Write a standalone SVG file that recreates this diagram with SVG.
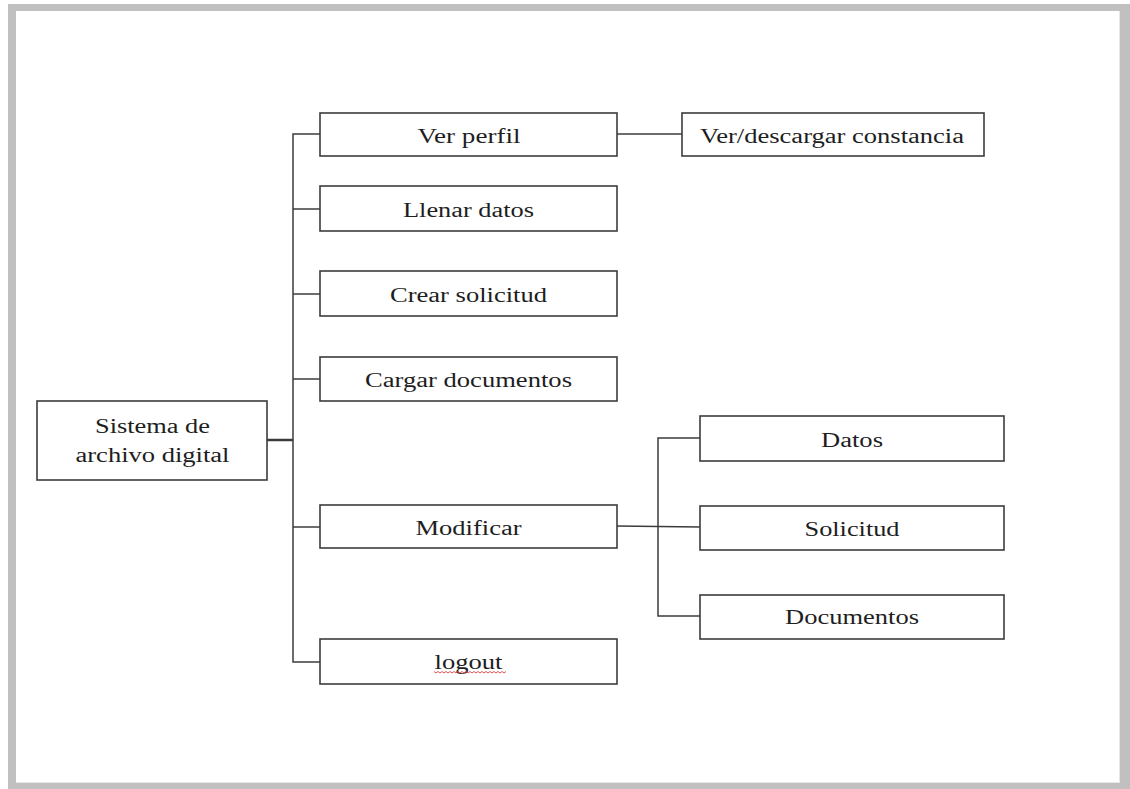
<svg xmlns="http://www.w3.org/2000/svg" width="1130" height="789" viewBox="0 0 1130 789">
<style>
.box{fill:#fff;stroke:#3c3c3c;stroke-width:1.6}
.lbl{font-family:"Liberation Serif","Times New Roman",serif;font-size:20px;fill:#1e1e1e;text-anchor:middle}
.con{fill:none;stroke:#3c3c3c;stroke-width:1.5}
</style>
<rect x="8" y="4" width="1122" height="785" fill="#c0c0c0"/>
<rect x="16" y="11" width="1103" height="771" fill="#fff"/>
<line x1="1119.5" y1="11" x2="1119.5" y2="782" stroke="#e6e6e6" stroke-width="1"/>
<line x1="16" y1="782.5" x2="1120" y2="782.5" stroke="#e6e6e6" stroke-width="1"/>
<g id="connectors">
<line class="con" x1="267" y1="440" x2="293" y2="440" style="stroke-width:2.5"/>
<polyline class="con" points="320,134 293,134 293,662 320,662"/>
<line class="con" x1="293" y1="209" x2="320" y2="209"/>
<line class="con" x1="293" y1="294" x2="320" y2="294"/>
<line class="con" x1="293" y1="379" x2="320" y2="379"/>
<line class="con" x1="293" y1="527" x2="320" y2="527"/>
<line class="con" x1="617" y1="134" x2="682" y2="134"/>
<line class="con" x1="617" y1="526" x2="700" y2="527"/>
<polyline class="con" points="700,438 658,438 658,616 700,616"/>
</g>
<g id="root"><rect class="box" x="37" y="401" width="230" height="79"/>
<text class="lbl" x="152.5" y="433" textLength="115" lengthAdjust="spacingAndGlyphs">Sistema de</text>
<text class="lbl" x="152.5" y="462" textLength="154" lengthAdjust="spacingAndGlyphs">archivo digital</text></g>
<g id="ver-perfil"><rect class="box" x="320" y="113" width="297" height="43"/>
<text class="lbl" x="469" y="143" textLength="103" lengthAdjust="spacingAndGlyphs">Ver perfil</text></g>
<g id="llenar-datos"><rect class="box" x="320" y="186" width="297" height="45"/>
<text class="lbl" x="468.5" y="217" textLength="131" lengthAdjust="spacingAndGlyphs">Llenar datos</text></g>
<g id="crear-solicitud"><rect class="box" x="320" y="271" width="297" height="45"/>
<text class="lbl" x="468.5" y="302" textLength="157" lengthAdjust="spacingAndGlyphs">Crear solicitud</text></g>
<g id="cargar-documentos"><rect class="box" x="320" y="357" width="297" height="44"/>
<text class="lbl" x="468.5" y="387" textLength="207" lengthAdjust="spacingAndGlyphs">Cargar documentos</text></g>
<g id="modificar"><rect class="box" x="320" y="505" width="297" height="43"/>
<text class="lbl" x="468.5" y="535" textLength="106" lengthAdjust="spacingAndGlyphs">Modificar</text></g>
<g id="logout"><rect class="box" x="320" y="639" width="297" height="45"/>
<text class="lbl" x="468.5" y="669" textLength="68" lengthAdjust="spacingAndGlyphs">logout</text>
<path d="M434,671.5 l2,1.5 l2,-1.5 l2,1.5 l2,-1.5 l2,1.5 l2,-1.5 l2,1.5 l2,-1.5 l2,1.5 l2,-1.5 l2,1.5 l2,-1.5 l2,1.5 l2,-1.5 l2,1.5 l2,-1.5 l2,1.5 l2,-1.5 l2,1.5 l2,-1.5 l2,1.5 l2,-1.5 l2,1.5 l2,-1.5 l2,1.5 l2,-1.5 l2,1.5 l2,-1.5 l2,1.5 l2,-1.5 l2,1.5 l2,-1.5 l2,1.5 l2,-1.5 l2,1.5 l2,-1.5" fill="none" stroke="#e04040" stroke-width="0.9"/></g>
<g id="ver-descargar"><rect class="box" x="682" y="113" width="302" height="43"/>
<text class="lbl" x="832" y="143" textLength="264" lengthAdjust="spacingAndGlyphs">Ver/descargar constancia</text></g>
<g id="datos"><rect class="box" x="700" y="416" width="304" height="45"/>
<text class="lbl" x="852" y="447" textLength="62" lengthAdjust="spacingAndGlyphs">Datos</text></g>
<g id="solicitud"><rect class="box" x="700" y="506" width="304" height="44"/>
<text class="lbl" x="852" y="536" textLength="95" lengthAdjust="spacingAndGlyphs">Solicitud</text></g>
<g id="documentos"><rect class="box" x="700" y="595" width="304" height="44"/>
<text class="lbl" x="852" y="624" textLength="134" lengthAdjust="spacingAndGlyphs">Documentos</text></g>
</svg>
